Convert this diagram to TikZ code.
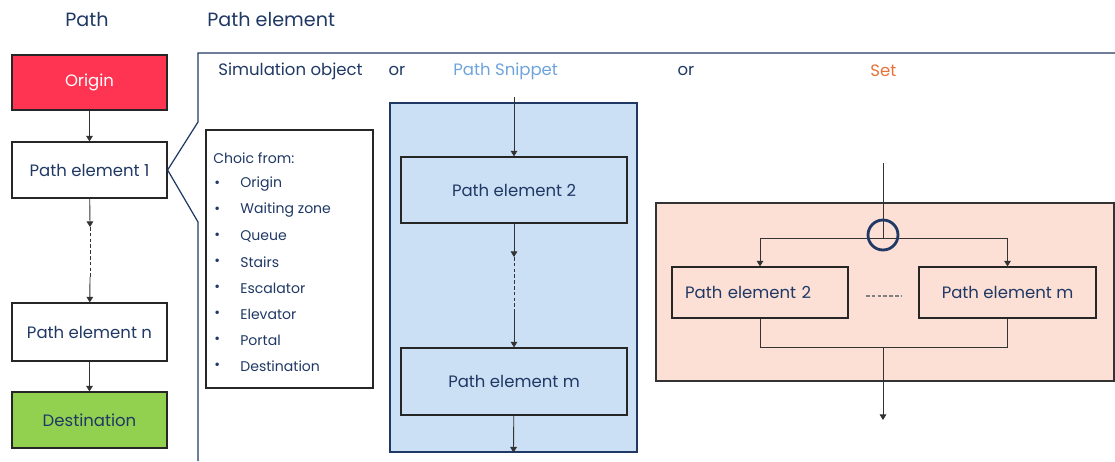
\documentclass[tikz,border=0pt]{standalone}
\usepackage{fontspec}
\setmainfont{Poppins}
\usetikzlibrary{arrows.meta, positioning}

\definecolor{navy}{HTML}{1F3864}
\definecolor{originred}{HTML}{FF3352}
\definecolor{destgreen}{HTML}{92D050}
\definecolor{snipblue}{HTML}{CCE0F5}
\definecolor{snipword}{HTML}{6FA3DC}
\definecolor{setpink}{HTML}{FCE0D6}
\definecolor{setword}{HTML}{E9713A}

\tikzset{
  elem/.style={draw=black!85, line width=0.7pt, inner sep=0pt, text=navy,
    font=\fontsize{9.4}{11}\selectfont},
  head/.style={text=navy, inner sep=0pt, font=\fontsize{10.9}{13}\selectfont},
  sub/.style={inner sep=0pt, font=\fontsize{9.4}{11}\selectfont},
  item/.style={text=navy, inner sep=0pt, anchor=west, font=\fontsize{8}{10}\selectfont},
  link/.style={black!80, line width=0.5pt},
  dots/.style={dash pattern=on 2pt off 1.3pt},
}

\begin{document}
\begin{tikzpicture}[x=0.02cm,y=-0.02cm,>={Triangle[length=3.2pt,width=3.8pt]}]
  \useasboundingbox (0,0) rectangle (1115,461);

  % headers
  \node[head] (hpath) at (87,19) {Path};
  \node[head, anchor=west] (helem) at (207,19) {Path element};

  % left column: the path
  \node[elem, fill=originred, text=white, minimum width=3.1cm, minimum height=1.1cm]
    (origin) at (89.5,82.5) {Origin};
  \node[elem, minimum width=3.1cm, minimum height=1.12cm] (pe1) at (89.5,170) {Path element 1};
  \node[elem, minimum width=3.1cm, minimum height=1.16cm] (pen) at (89.5,332) {Path element n};
  \node[elem, fill=destgreen, minimum width=3.1cm, minimum height=1.12cm]
    (dest) at (89.5,420) {Destination};
  \coordinate (la) at (90,227);
  \coordinate (lb) at (90,277);
  \draw[link,->] (origin) -- (pe1);
  \draw[link,->] (pe1) -- (la);
  \draw[link,dots] (la) -- (lb);
  \draw[link,->] (lb) -- (pen);
  \draw[link,->] (pen) -- (dest);

  % callout frame
  \draw[navy, line width=0.7pt] (1115,53) -- (198,53) -- (198,122) -- (pe1.east)
    -- (198,222) -- (198,461);

  % options line
  \node[sub, text=navy, anchor=west] (simobj) at (218,71) {Simulation object};
  \node[sub, text=navy] (or1) at (397,71) {or};
  \node[sub, text=snipword, anchor=west] (snipword) at (453,71) {Path Snippet};
  \node[sub, text=navy] (or2) at (686,71) {or};
  \node[sub, text=setword, anchor=west] (setword) at (870,71) {Set};

  % simulation object choices
  \node[draw=black!85, line width=0.7pt, minimum width=3.34cm, minimum height=5.16cm]
    (choice) at (289.5,259) {};
  \node[item] (choicehead) at (213,158) {Choic from:};
  \foreach \name [count=\i] in {Origin, Waiting zone, Queue, Stairs, Escalator,
      Elevator, Portal, Destination}{
    \node[item] (dot\i) at (214,{158+26*\i}) {\textbullet};
    \node[item] (opt\i) at (240,{158+26*\i}) {\name};
  }

  % path snippet
  \node[draw=navy, fill=snipblue, line width=0.7pt, minimum width=4.94cm, minimum height=6.98cm]
    (snip) at (513.5,277.5) {};
  \node[elem, fill=snipblue, minimum width=4.52cm, minimum height=1.32cm]
    (snipa) at (514,190) {Path element 2};
  \node[elem, fill=snipblue, minimum width=4.52cm, minimum height=1.34cm]
    (snipb) at (514,381.5) {Path element m};
  \coordinate (sin) at (514,97);
  \coordinate (sa) at (514,257);
  \coordinate (sb) at (514,310);
  \draw[link,->] (sin) -- (snipa);
  \draw[link,->] (snipa) -- (sa);
  \draw[link,dots] (sa) -- (sb);
  \draw[link,->] (sb) -- (snipb);
  \draw[link,->] (snipb) -- (snip.south);

  % set
  \node[draw=black!80, fill=setpink, line width=0.7pt, minimum width=9.16cm, minimum height=3.56cm]
    (set) at (885,292) {};
  \node[elem, minimum width=3.52cm, minimum height=1.02cm, text width=3.0cm, align=left]
    (seta) at (760,292.5) {Path element 2};
  \node[elem, minimum width=3.54cm, minimum height=1.02cm]
    (setb) at (1007.5,292.5) {Path element m};
  \coordinate (setin) at (883,163);
  \coordinate (split) at (883,238);
  \coordinate (join) at (883,347);
  \coordinate (setout) at (883,420);
  \draw[link] (setin) -- (split);
  \draw[link,->] (split) -| (seta);
  \draw[link,->] (split) -| (setb);
  \draw[navy, line width=1.6pt] (883,235) circle (0.3cm);
  \draw[link] (seta) |- (join) -| (setb);
  \draw[link,->] (join) -- (setout);
  \draw[black!50, dots, line width=0.6pt] (866,296) -- (901,296);
\end{tikzpicture}
\end{document}
